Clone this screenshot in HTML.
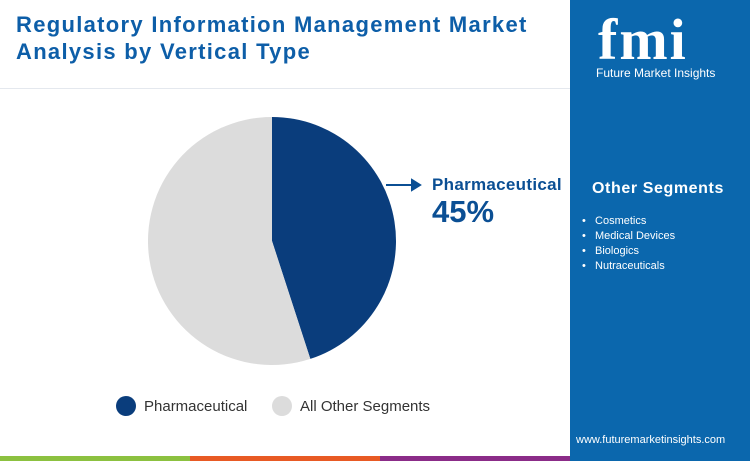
<!DOCTYPE html>
<html><head><meta charset="utf-8"><style>
body{margin:0;width:750px;height:461px;overflow:hidden;background:#fff;font-family:"Liberation Sans",sans-serif;position:relative}
.abs{position:absolute}
</style></head><body>
<div class="abs" style="left:16px;top:11px;font-size:22px;font-weight:bold;color:#0d5ea8;line-height:27px;letter-spacing:1.3px">Regulatory Information Management Market<br>Analysis by Vertical Type</div>
<div class="abs" style="left:0;top:88px;width:570px;height:1px;background:#e4e8ee"></div>
<div class="abs" style="left:570px;top:0;width:180px;height:461px;background:#0b67ad">
  <div class="abs" style="left:28px;top:6px;font-family:'Liberation Serif',serif;font-size:58px;font-weight:bold;color:#fff;letter-spacing:2px">fmi</div>
  <div class="abs" style="left:26px;top:66px;font-size:12px;color:#fff">Future Market Insights</div>
  <div class="abs" style="left:22px;top:180px;font-size:16px;font-weight:bold;color:#fff;letter-spacing:0.6px">Other Segments</div>
  <div class="abs" style="left:12px;top:214px;font-size:11px;color:#fff;line-height:15px">
    <div>•&nbsp;&nbsp;&nbsp;Cosmetics</div><div>•&nbsp;&nbsp;&nbsp;Medical Devices</div><div>•&nbsp;&nbsp;&nbsp;Biologics</div><div>•&nbsp;&nbsp;&nbsp;Nutraceuticals</div>
  </div>
  <div class="abs" style="left:6px;top:434px;font-size:11px;color:#fff">www.futuremarketinsights.com</div>
</div>
<div class="abs" style="left:0;top:456px;width:190px;height:5px;background:#8cc140"></div>
<div class="abs" style="left:190px;top:456px;width:190px;height:5px;background:#e85a24"></div>
<div class="abs" style="left:380px;top:456px;width:190px;height:5px;background:#8b2c88"></div>
<svg class="abs" style="left:0;top:0" width="570" height="456" id="pie"></svg>
<div class="abs" style="left:432px;top:175px;font-size:17px;font-weight:bold;color:#0b4f94;letter-spacing:0.3px">Pharmaceutical</div>
<div class="abs" style="left:432px;top:194px;font-size:31px;font-weight:bold;color:#0b4f94">45%</div>
<div class="abs" style="left:116px;top:396px;font-size:15px;color:#333;display:flex;align-items:center"><span style="width:20px;height:20px;border-radius:50%;background:#0a3d7c;margin-right:8px"></span>Pharmaceutical</div>
<div class="abs" style="left:272px;top:396px;font-size:15px;color:#333;display:flex;align-items:center"><span style="width:20px;height:20px;border-radius:50%;background:#dcdcdc;margin-right:8px"></span>All Other Segments</div>
<script>
const categories=["Pharmaceutical","All Other Segments"];
const values=[45,55];
const colors=["#0a3d7c","#dcdcdc"];
const svg=document.getElementById('pie');
const ns="http://www.w3.org/2000/svg";
const cx=272,cy=241,r=124;
const total=values.reduce((a,b)=>a+b,0);
let a0=-Math.PI/2;
values.forEach((v,i)=>{
  const a1=a0+v/total*2*Math.PI;
  const x0=cx+r*Math.cos(a0),y0=cy+r*Math.sin(a0),x1=cx+r*Math.cos(a1),y1=cy+r*Math.sin(a1);
  const p=document.createElementNS(ns,'path');
  p.setAttribute('d',`M${cx},${cy}L${x0},${y0}A${r},${r} 0 ${(a1-a0)>Math.PI?1:0} 1 ${x1},${y1}Z`);
  p.setAttribute('fill',colors[i]);
  
  
  svg.appendChild(p);
  a0=a1;
});
const ln=document.createElementNS(ns,'path');
ln.setAttribute('d','M386,185L418,185M412,180L420,185L412,190Z');
ln.setAttribute('stroke','#0b4f94');ln.setAttribute('stroke-width','2');ln.setAttribute('fill','#0b4f94');


svg.appendChild(ln);
</script>
</body></html>
